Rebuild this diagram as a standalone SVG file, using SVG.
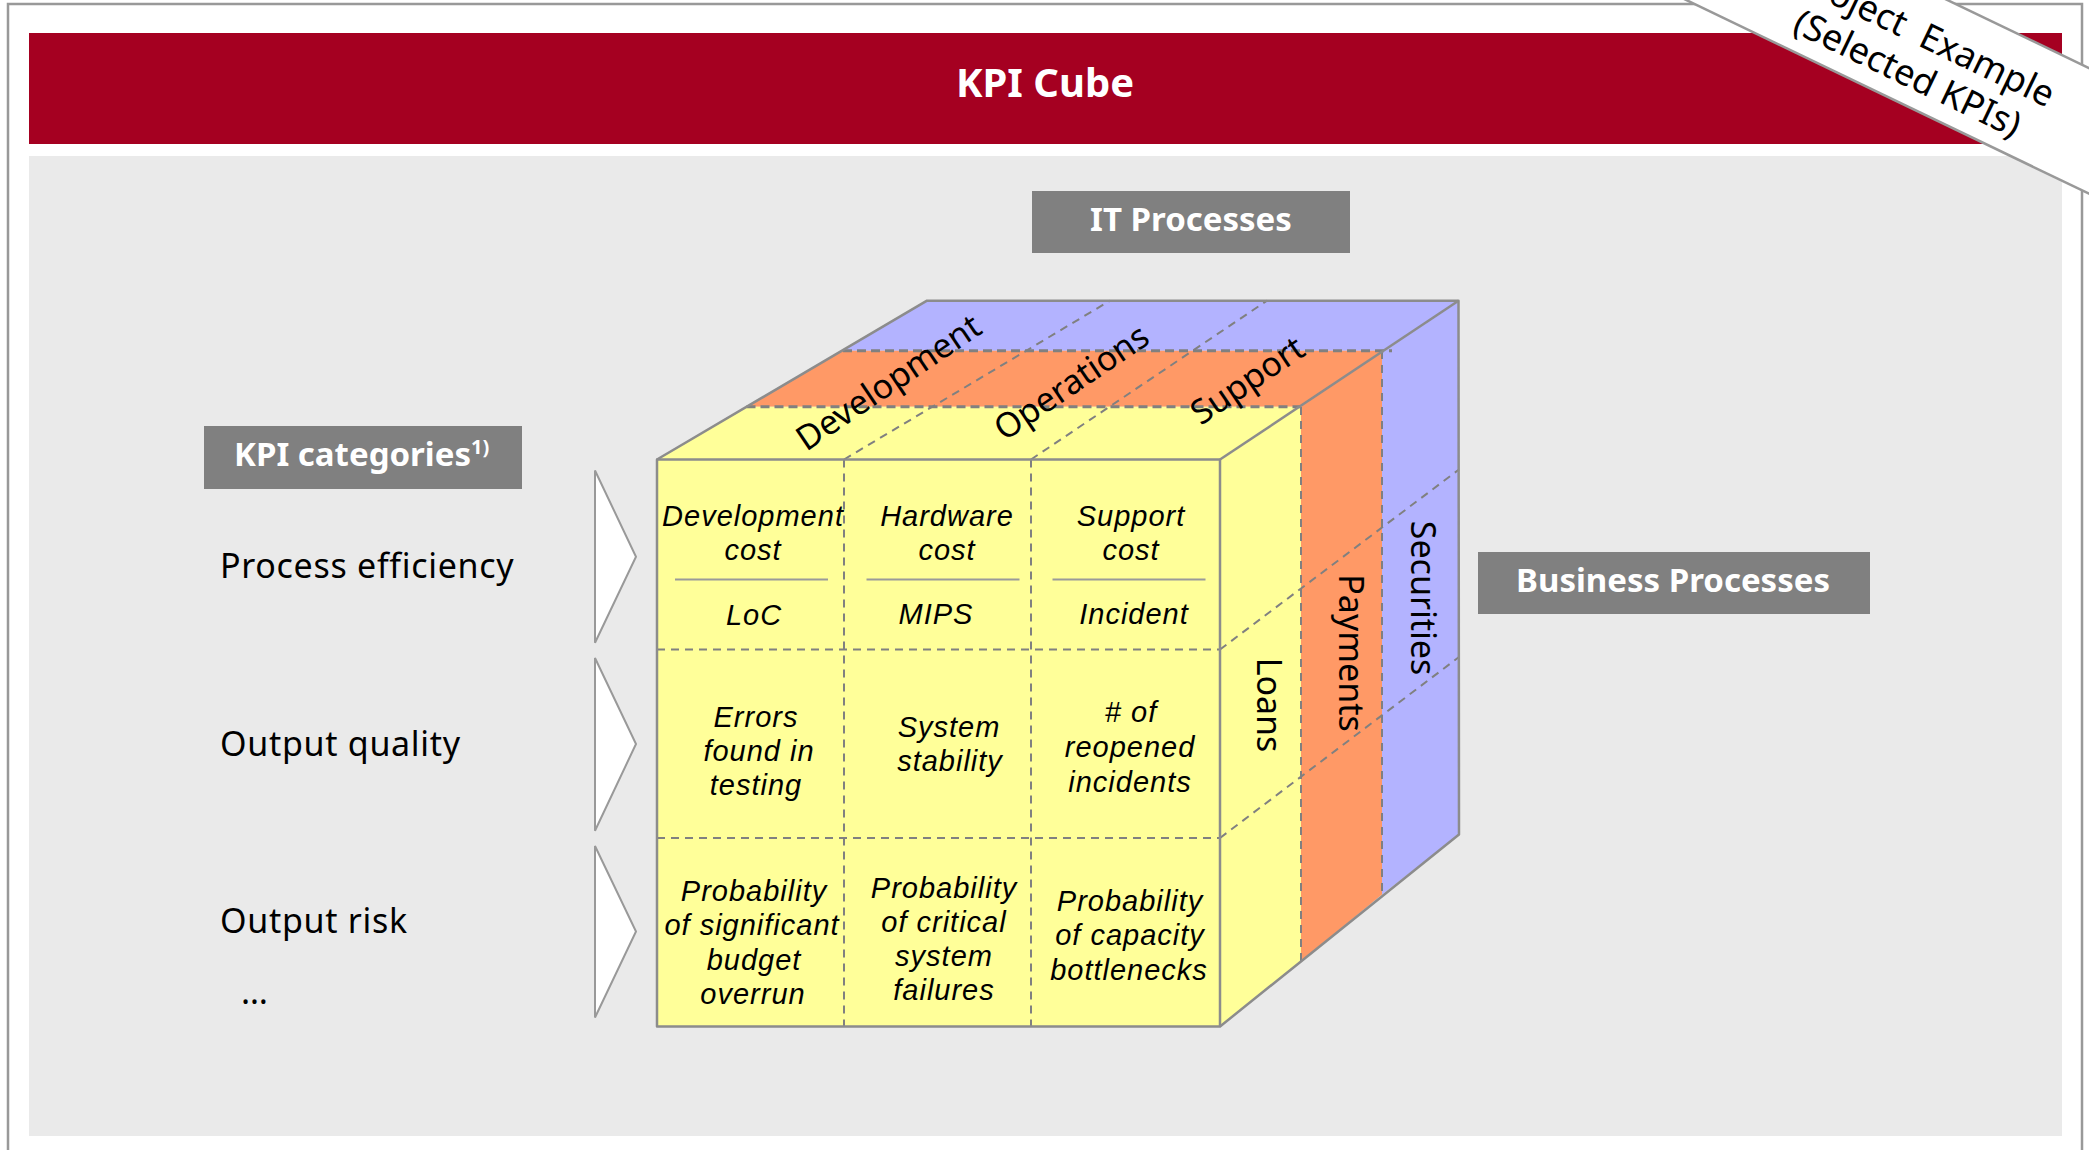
<svg xmlns="http://www.w3.org/2000/svg" width="2089" height="1150" viewBox="0 0 2089 1150">
<defs>
<style>
.sans{font-family:"Noto Sans","Open Sans","DejaVu Sans",sans-serif}
.lbl{font-size:34px;fill:#000;letter-spacing:0.7px}
.box{fill:#808080}
.boxt{font-size:33px;font-weight:bold;fill:#fff;text-anchor:middle}
.cell{font-family:"Liberation Sans",Arial,sans-serif;font-size:29px;font-style:italic;text-anchor:middle;fill:#000;letter-spacing:1px}
.edge{fill:none;stroke:#8c8c8c;stroke-width:2.5;stroke-linejoin:round}
.dash{fill:none;stroke:#808080;stroke-width:2;stroke-dasharray:8 6}
.dashb{fill:none;stroke:#808080;stroke-width:3;stroke-dasharray:9 5}
.sep{stroke:#9a9a9a;stroke-width:2}
.y{fill:#FFFF99}.o{fill:#FF9966}.b{fill:#B3B3FF}
.face{font-size:34px;text-anchor:middle;fill:#000}
.chev{fill:#fff;stroke:#999;stroke-width:2;stroke-linejoin:miter}
</style>
</defs>
<rect x="0" y="0" width="2089" height="1150" fill="#fff"/>
<g id="frame">
<rect x="8" y="4" width="2074" height="1170" fill="none" stroke="#999" stroke-width="2.5"/>
<rect x="29" y="33" width="2033" height="111" fill="#A50021"/>
<rect x="29" y="156" width="2033" height="980" fill="#EAEAEA"/>
</g>
<g id="title" class="sans"><text x="1045" y="97" font-size="40" font-weight="bold" fill="#fff" text-anchor="middle">KPI Cube</text></g>

<g id="it-processes" class="sans"><rect class="box" x="1032" y="191" width="318" height="62"/><text class="boxt" x="1191" y="231">IT Processes</text></g>
<g id="kpi-categories" class="sans"><rect class="box" x="204" y="426" width="318" height="63"/><text x="234" y="466" font-size="33" font-weight="bold" fill="#fff">KPI categories<tspan font-size="20" dy="-12">1)</tspan></text></g>
<g id="business-processes" class="sans"><rect class="box" x="1478" y="552" width="392" height="62"/><text class="boxt" x="1673" y="592">Business Processes</text></g>

<g id="categories" class="sans lbl">
<text x="220" y="578">Process efficiency</text>
<text x="220" y="756">Output quality</text>
<text x="220" y="933">Output risk</text>
<text x="241" y="1004">…</text>
</g>

<g id="connectors">
<polygon class="chev" points="595,470.5 636,556.8 595,642.7"/>
<polygon class="chev" points="595,658 636,744 595,830.7"/>
<polygon class="chev" points="595,846 636,931.5 595,1017.5"/>
</g>

<g id="cube">
<g id="top-face">
<polygon class="b" points="927,300.7 1458.5,300.7 1382,350.7 843,350.7"/>
<polygon class="o" points="843,350.7 1382,350.7 1300,406.7 746.5,406.7"/>
<polygon class="o" points="1380,350.7 1394,350.7 1382,358"/>
<polygon class="y" points="746.5,406.7 1300,406.7 1220,459.5 657,459.5"/>
</g>
<g id="right-face">
<polygon class="y" points="1220,459.5 1301,406.2 1301,961.5 1220,1026.5"/>
<polygon class="o" points="1301,406.2 1382,351 1382,894.5 1301,961.5"/>
<polygon class="b" points="1382,351 1458.5,300.7 1459,834.5 1382,894.5"/>
</g>
<rect id="front-face" class="y" x="657" y="459.5" width="563" height="567"/>
<g id="grid">
<line class="dashb" x1="746.5" y1="406.7" x2="1300" y2="406.7"/>
<line class="dashb" x1="843" y1="350.7" x2="1392" y2="350.7"/>
<line class="dash" x1="1301" y1="407" x2="1301" y2="961.5"/>
<line class="dash" x1="1382" y1="351" x2="1382" y2="894.5"/>
<line class="dash" x1="844" y1="459.5" x2="1110" y2="300.7"/>
<line class="dash" x1="1031" y1="459.5" x2="1267" y2="300.7"/>
<line class="dash" x1="844" y1="459.5" x2="844" y2="1026.5"/>
<line class="dash" x1="1031" y1="459.5" x2="1031" y2="1026.5"/>
<line class="dash" x1="657" y1="649.5" x2="1220" y2="649.5"/>
<line class="dash" x1="657" y1="838" x2="1220" y2="838"/>
<line class="dash" x1="1220" y1="649.5" x2="1459" y2="469.5"/>
<line class="dash" x1="1220" y1="838" x2="1459" y2="657"/>
</g>
<g id="outline">
<rect class="edge" x="657" y="459.5" width="563" height="567"/>
<polyline class="edge" points="657,459.5 927,300.7 1458.5,300.7 1459,834.5 1220,1026.5"/>
<line class="edge" x1="1220" y1="459.5" x2="1458.5" y2="300.7"/>
</g>
<g id="face-labels" class="sans face">
<text transform="translate(895,392) rotate(-34)">Development</text>
<text transform="translate(1078,392) rotate(-34)">Operations</text>
<text transform="translate(1254,390) rotate(-34)">Support</text>
<text transform="translate(1257,705) rotate(90)">Loans</text>
<text transform="translate(1339,653) rotate(90)">Payments</text>
<text transform="translate(1411,598) rotate(90)">Securities</text>
</g>
</g>

<g id="cells" class="cell">
<g id="cell-1-1"><text x="753" y="526">Development</text><text x="753" y="559.5">cost</text><line class="sep" x1="675" y1="579.5" x2="828" y2="579.5"/><text x="754" y="625">LoC</text></g>
<g id="cell-1-2"><text x="947" y="526">Hardware</text><text x="947" y="559.5">cost</text><line class="sep" x1="866.5" y1="579.5" x2="1019.5" y2="579.5"/><text x="936" y="624">MIPS</text></g>
<g id="cell-1-3"><text x="1131" y="526">Support</text><text x="1131" y="559.5">cost</text><line class="sep" x1="1052.5" y1="579.5" x2="1205.5" y2="579.5"/><text x="1134" y="624">Incident</text></g>
<g id="cell-2-1"><text x="756" y="727">Errors</text><text x="759" y="761">found in</text><text x="756" y="795">testing</text></g>
<g id="cell-2-2"><text x="949" y="737">System</text><text x="950" y="771">stability</text></g>
<g id="cell-2-3"><text x="1131" y="722"># of</text><text x="1130" y="757">reopened</text><text x="1130" y="792">incidents</text></g>
<g id="cell-3-1"><text x="754" y="901">Probability</text><text x="752" y="935">of significant</text><text x="754" y="970">budget</text><text x="753" y="1004">overrun</text></g>
<g id="cell-3-2"><text x="944" y="898">Probability</text><text x="944" y="932">of critical</text><text x="944" y="966">system</text><text x="944" y="1000">failures</text></g>
<g id="cell-3-3"><text x="1130" y="911">Probability</text><text x="1130" y="945">of capacity</text><text x="1129" y="980">bottlenecks</text></g>
</g>

<g id="banner">
<polygon points="1680,-3 2100,199 2149,97 1729,-105" fill="#fff"/>
<line x1="1680" y1="-3" x2="2100" y2="199" stroke="#999" stroke-width="2.5"/>
<line x1="1729" y1="-105" x2="2149" y2="97" stroke="#999" stroke-width="2.5"/>
<g class="sans" transform="translate(1917,54) rotate(25.7)" font-size="36" text-anchor="middle" fill="#000">
<text x="0" y="-8" xml:space="preserve">Project  Example</text>
<text x="0" y="34">(Selected KPIs)</text>
</g>
</g>
</svg>
